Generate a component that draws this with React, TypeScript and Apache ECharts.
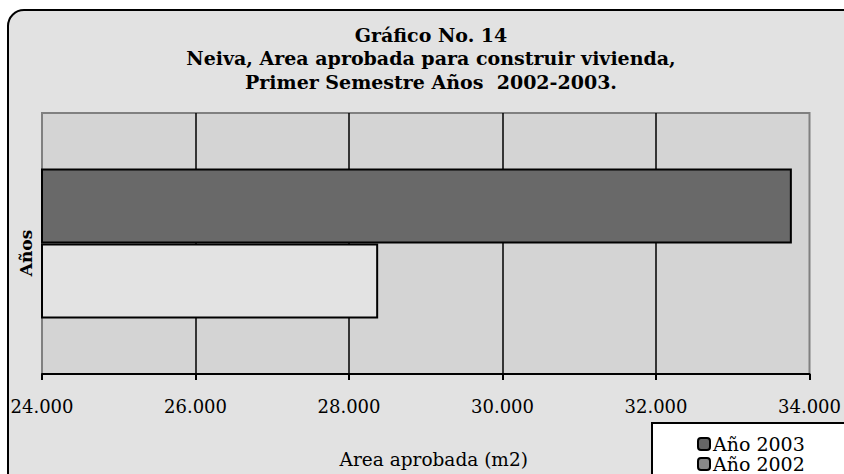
import React, { useEffect, useRef } from "react";
import * as echarts from "echarts";

const titleLines = [
  "Gráfico No. 14",
  "Neiva, Area aprobada para construir vivienda,",
  "Primer Semestre Años  2002-2003.",
];
const categories = ["Años"];
const seriesNames = ["Año 2003", "Año 2002"];
const values2003 = [33770];
const values2002 = [28380];
const xMin = 24000;
const xMax = 34000;
const xStep = 2000;
const xAxisName = "Area aprobada (m2)";
const yAxisName = "Años";

const fmt = (v: number) => {
  const s = Math.round(v).toString();
  return s.replace(/\B(?=(\d{3})+(?!\d))/g, ".");
};

export default function App() {
  const ref = useRef<HTMLDivElement>(null);
  useEffect(() => {
    if (!ref.current) return;
    const chart = echarts.init(ref.current, undefined, { renderer: "svg" });
    const wide = "'DejaVu Serif', serif";
    chart.setOption({
      animation: false,
      backgroundColor: "transparent",
      graphic: [
        {
          type: "rect",
          z: -10,
          shape: { x: 8, y: 10, width: 900, height: 520, r: 16 },
          style: { fill: "#e2e2e2", stroke: "#000", lineWidth: 2 },
        },
        {
          type: "rect",
          z: 10,
          shape: { x: 652, y: 423, width: 240, height: 80 },
          style: { fill: "#fff", stroke: "#000", lineWidth: 2 },
        },
        {
          type: "text",
          x: 26,
          y: 253,
          rotation: Math.PI / 2,
          style: {
            text: yAxisName,
            fontFamily: wide,
            fontWeight: "bold",
            fontSize: 17,
            fill: "#000",
            textAlign: "center",
            textVerticalAlign: "middle",
          },
        },
      ],
      title: {
        text: titleLines.join("\n"),
        left: 426,
        textAlign: "center",
        top: 18,
        textStyle: {
          fontFamily: wide,
          fontWeight: "bold",
          fontSize: 19,
          lineHeight: 23.5,
          color: "#000",
        },
      },
      legend: {
        orient: "vertical",
        left: 692,
        top: 429,
        height: 60,
        z: 20,
        itemWidth: 12,
        itemHeight: 12,
        itemGap: 0,
        textStyle: { fontFamily: wide, fontSize: 19, lineHeight: 20, color: "#000", padding: [0, 0, 0, -2] },
        data: [
          { name: seriesNames[0], itemStyle: { color: "#666", borderColor: "#000", borderWidth: 2 } },
          { name: seriesNames[1], itemStyle: { color: "#888", borderColor: "#000", borderWidth: 2 } },
        ],
      },
      grid: {
        left: 42,
        right: 30,
        top: 113,
        bottom: 97,
        show: true,
        backgroundColor: "#d4d4d4",
        borderColor: "#808080",
        borderWidth: 2,
      },
      xAxis: {
        type: "value",
        min: xMin,
        max: xMax,
        interval: xStep,
        name: xAxisName,
        nameLocation: "middle",
        nameGap: 76,
        nameTextStyle: { fontFamily: wide, fontSize: 18.5, color: "#000", padding: [0, 0, 0, 16] },
        axisLine: { show: true, lineStyle: { color: "#000", width: 2 } },
        axisTick: { show: true, length: 6, lineStyle: { color: "#000", width: 2 } },
        axisLabel: {
          margin: 23,
          fontFamily: wide,
          fontSize: 18,
          color: "#000",
          formatter: (v: number) => fmt(v),
        },
        splitLine: {
          show: true,
          showMinLine: false,
          showMaxLine: false,
          lineStyle: { color: "#000", width: 1.5 },
        },
      },
      yAxis: {
        type: "category",
        data: categories,
        axisLine: { show: true, lineStyle: { color: "#808080", width: 2 } },
        axisTick: { show: false },
        axisLabel: { show: false },
      },
      series: [
        {
          name: seriesNames[0],
          type: "bar",
          data: values2003,
          barWidth: 75,
          barGap: "0%",
          itemStyle: { color: "#696969", borderColor: "#000", borderWidth: 2 },
        },
        {
          name: seriesNames[1],
          type: "bar",
          data: values2002,
          barWidth: 75,
          barGap: "0%",
          itemStyle: { color: "#e3e3e3", borderColor: "#000", borderWidth: 2 },
        },
      ],
    });
    return () => chart.dispose();
  }, []);
  return (
    <div
      ref={ref}
      style={{ position: "absolute", left: 0, top: 0, width: 844, height: 474 }}
    />
  );
}
